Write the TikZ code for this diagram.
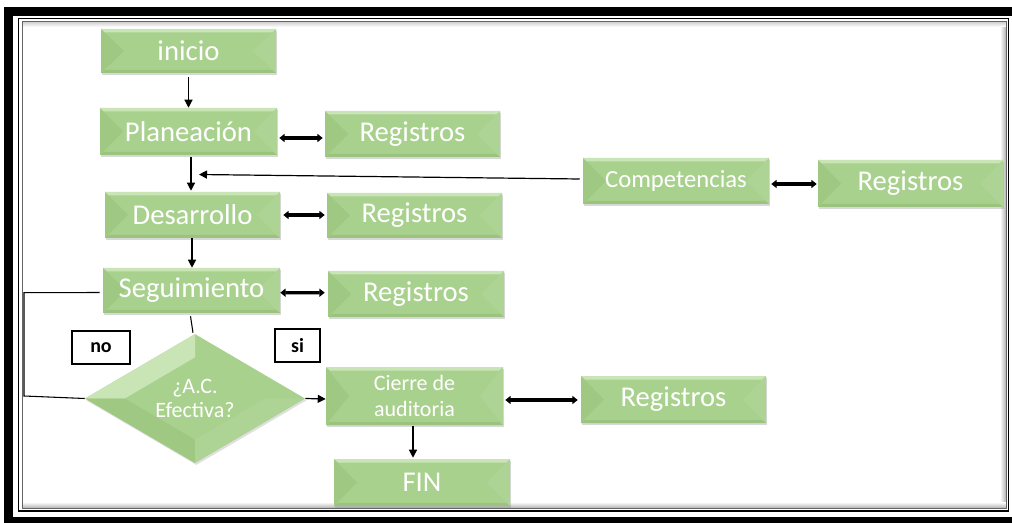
\documentclass[tikz,border=0pt]{standalone}
\usepackage{fontspec}
\setmainfont{Carlito}
\usetikzlibrary{shapes.geometric,arrows.meta,shadows,calc}
\definecolor{boxg}{HTML}{A9D18E}
\definecolor{boxl}{HTML}{C9E5B6}
\definecolor{boxm}{HTML}{AED495}
\definecolor{boxd}{HTML}{9FC883}
\definecolor{boxdd}{HTML}{9AC37E}
\tikzset{
  bevel/.style={path picture={
    \fill[boxd] (path picture bounding box.north west) -- ($(path picture bounding box.west)+(23,0)$)
       -- (path picture bounding box.south west) -- cycle;
    \fill[boxm] (path picture bounding box.north east) -- ($(path picture bounding box.east)+(-23,0)$)
       -- (path picture bounding box.south east) -- cycle;
    \fill[boxl] (path picture bounding box.north west) -- (path picture bounding box.north east)
       -- ($(path picture bounding box.north east)+(-4,3.5)$) -- ($(path picture bounding box.north west)+(4,3.5)$) -- cycle;
    \fill[boxdd] (path picture bounding box.south west) -- (path picture bounding box.south east)
       -- ($(path picture bounding box.south east)+(-4,-3)$) -- ($(path picture bounding box.south west)+(4,-3)$) -- cycle;
  }},
  gbox/.style 2 args={rectangle, fill=boxg, bevel, text=white, inner sep=0pt,
    minimum width={#1*0.75pt}, minimum height={#2*0.75pt}, align=center,
    font=\fontsize{21.5}{25}\selectfont,
    drop shadow={shadow xshift=1pt, shadow yshift=-1.5pt, opacity=0.3, fill=black!50}},
  dia/.style={diamond, fill=boxg, text=white, inner sep=0pt, align=center,
    minimum width={220*0.75pt}, minimum height={129*0.75pt},
    font=\fontsize{16.5}{17.5}\selectfont,
    path picture={
      \fill[boxl] (path picture bounding box.west) -- (path picture bounding box.north) -- (path picture bounding box.center) -- cycle;
      \fill[boxd] (path picture bounding box.west) -- (path picture bounding box.south) -- (path picture bounding box.center) -- cycle;
      \fill[boxm] (path picture bounding box.east) -- (path picture bounding box.south) -- (path picture bounding box.center) -- cycle;
      \fill[boxg] ($(path picture bounding box.center)+(-70,0)$) -- ($(path picture bounding box.center)+(0,-41)$)
        -- ($(path picture bounding box.center)+(70,0)$) -- ($(path picture bounding box.center)+(0,41)$) -- cycle;
    },
    drop shadow={shadow xshift=1pt, shadow yshift=-1.5pt, opacity=0.25, fill=black!50}},
  lab/.style 2 args={rectangle, draw=black, line width=0.8pt, fill=white, text=black,
    minimum width={#1*0.75pt}, minimum height={#2*0.75pt}, inner sep=0pt,
    font=\bfseries\fontsize{15}{17}\selectfont},
  arr/.style={draw=black, line width=0.9pt, -{Triangle[length=6pt,width=6pt]}},
  dbl/.style={draw=black, line width=2.4pt, {Triangle[length=4pt,width=6pt]}-{Triangle[length=4pt,width=6pt]}},
  ln/.style={draw=black, line width=0.8pt}
}
\begin{document}
\begin{tikzpicture}[x=0.75pt,y=-0.75pt]
\useasboundingbox (0,0) rectangle (1012,523);
\fill[white] (0,0) rectangle (1012,523);
\begin{scope}
\clip (0,0) rectangle (1012,523);
% frame
\draw[line width={9*0.75pt}] (8,11.5) rectangle (1030,521);
\shade[left color=white, right color=black!30] (1000,22) rectangle (1006,508);
\shade[top color=white, bottom color=black!30] (22,502) rectangle (1006,508);
\shade[bottom color=white, top color=black!18] (22,22) rectangle (1006,27);
\draw[line width={1.6*0.75pt}] (18.3,18.5) rectangle (1008.5,511);
\draw[line width={1*0.75pt}, black!60] (22,22) rectangle (1006,508);
\end{scope}

% nodes
\node[gbox={175}{44}] (inicio) at (188.5,51) {inicio};
\node[gbox={177}{47}] (plan) at (188.5,131.5) {Planeación};
\node[gbox={175}{46}] (reg1) at (412.5,134) {Registros};
\node[gbox={175}{46}] (des) at (192.5,215) {Desarrollo};
\node[gbox={175}{45}] (reg2) at (414.5,215.5) {Registros};
\node[gbox={177}{45}] (seg) at (191.5,290.5) {Seguimiento};
\node[gbox={176}{46}] (reg3) at (416,294) {Registros};
\node[dia] (dec) at (195,398.5) {¿A.C.\\Efectiva?};
\node[lab={58}{33}] (no) at (101,347.5) {no};
\node[lab={45}{33}] (si) at (297.5,345.5) {si};
\node[gbox={177}{58}, font=\fontsize{16.5}{19}\selectfont] (cierre) at (414.5,396) {Cierre de\\auditoria};
\node[gbox={176}{47}] (fin) at (422,482.5) {FIN};
\node[gbox={185}{47}] (reg4) at (673.5,399.5) {Registros};
\node[gbox={186}{46}, font=\fontsize{18.5}{22}\selectfont] (comp) at (676,181) {Competencias};
\node[gbox={185}{47}] (reg5) at (910.5,183.5) {Registros};

\coordinate (j) at (199,174.5);
\coordinate (la) at (24,292.7);
\coordinate (lb) at (24,396);

% connectors
\draw[arr] ($(inicio.south)+(0,4)$) -- (plan.north);
\draw[arr] ($(plan.south)+(2.5,2)$) -- ($(des.north)+(-1.5,-1)$);
\draw[arr] ($(comp.west)+(-3,-2)$) -- (j);
\draw[arr] ($(des.south)+(-0.5,0)$) -- ($(seg.north)+(0.5,0)$);
\draw[ln] ($(seg.south)+(-1,3)$) -- ($(dec.north)+(-2,-1)$);
\draw[ln] ($(seg.west)+(-3,2)$) -- (la) -- (lb) -- (dec.west);
\draw[arr] (dec.east) -- ($(cierre.west)+(0,3)$);
\draw[arr] ($(cierre.south)+(-1.5,1)$) -- ($(fin.north)+(-9,-1)$);
\draw[dbl] ($(plan.east)+(2,6.5)$) -- ($(reg1.west)+(-2,4)$);
\draw[dbl] ($(des.east)+(3,0)$) -- ($(reg2.west)+(-2,-0.5)$);
\draw[dbl] ($(seg.east)+(0,2.2)$) -- ($(reg3.west)+(-3,-1.3)$);
\draw[dbl] ($(cierre.east)+(2,4)$) -- ($(reg4.west)+(-3,0.5)$);
\draw[dbl] ($(comp.east)+(2,3)$) -- ($(reg5.west)+(-1,0.5)$);
\end{tikzpicture}
\end{document}
